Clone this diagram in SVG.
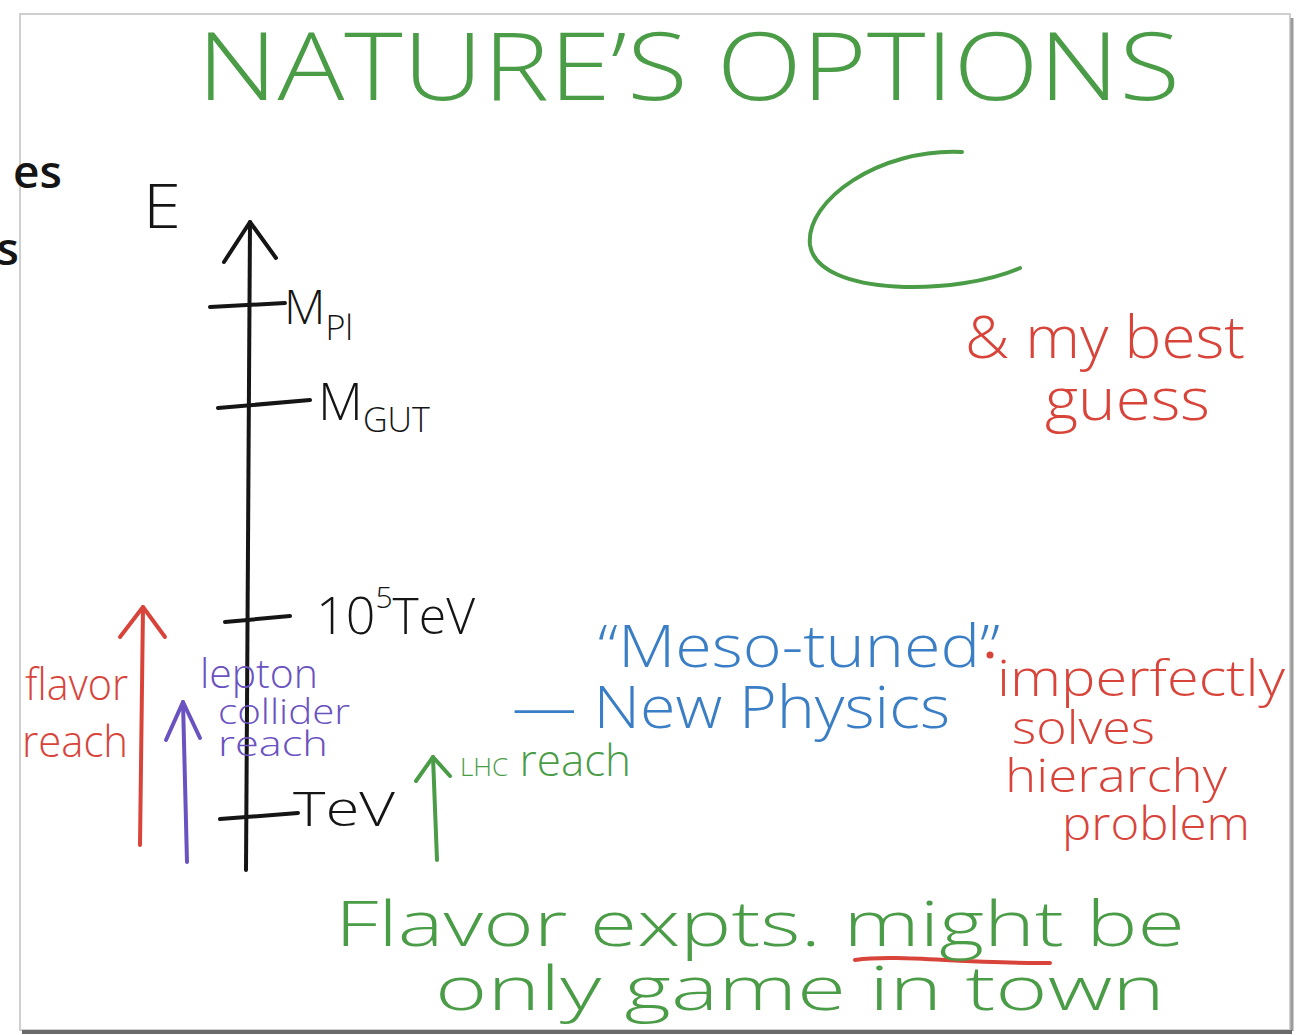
<svg xmlns="http://www.w3.org/2000/svg" width="1306" height="1035" viewBox="0 0 1306 1035">
<defs>
<style>
text{font-family:"Open Sans","Liberation Sans",sans-serif;font-weight:300;}
.g{fill:#4a9c47}.r{fill:#d8443a}.b{fill:#3a7ec6}.p{fill:#6a52c0}.k{fill:#151515}
.ln{fill:none;stroke-linecap:round;stroke-linejoin:round}
.ks{stroke:#151515;stroke-width:4}.rs{stroke:#d8443a;stroke-width:4}.ps{stroke:#6a52c0;stroke-width:4}.gs{stroke:#4a9c47;stroke-width:4}
</style>
</defs>
<rect width="1306" height="1035" fill="#ffffff"/>
<g id="card">
<rect x="20" y="14" width="1270" height="1016" fill="#ffffff" stroke="#cfcfcf" stroke-width="2"/>
<line x1="1292" y1="18" x2="1292" y2="1031" stroke="#9a9a9a" stroke-width="3"/>
<line x1="22" y1="1032" x2="1292" y2="1032" stroke="#6a6a6a" stroke-width="4"/>
</g>
<g id="bg-text">
<text x="62" y="188" class="k" font-size="46" style="font-weight:600" text-anchor="end">es</text>
<text x="19" y="265" class="k" font-size="46" style="font-weight:600" text-anchor="end">s</text>
</g>
<g id="title"><text x="197" y="100" class="g" font-size="94" textLength="983" lengthAdjust="spacingAndGlyphs">NATURE’S OPTIONS</text></g>
<g id="axis-label"><text x="143" y="228" class="k" font-size="60" textLength="38" lengthAdjust="spacingAndGlyphs">E</text></g>
<g id="connectors">
<path class="ln ks" d="M250,222 L246,870"/>
<path class="ln ks" d="M224,262 L250,222 L276,258"/>
<path class="ln ks" d="M210,307 L285,303"/>
<path class="ln ks" d="M218,408 L310,400"/>
<path class="ln ks" d="M225,622 L290,616"/>
<path class="ln ks" d="M220,819 L298,813"/>
<path class="ln rs" d="M140,845 L143,607"/>
<path class="ln rs" d="M120,637 L143,607 L165,637"/>
<path class="ln ps" d="M187,862 L183,702"/>
<path class="ln ps" d="M166,740 L183,702 L200,738"/>
<path class="ln gs" d="M437,860 L433,757"/>
<path class="ln gs" d="M416,781 L433,757 L450,776"/>
<path class="ln gs" d="M962,152 C880,148 805,200 810,245 C818,298 960,295 1020,268"/>
<path class="ln rs" d="M855,960 C900,954 960,964 1050,963"/>
</g>
<g id="mpl"><text x="284" y="324" class="k" font-size="48">M<tspan font-size="34" dy="16">Pl</tspan></text></g>
<g id="mgut"><text x="318" y="420" class="k" font-size="52">M<tspan font-size="34" dy="12">GUT</tspan></text></g>
<g id="e5tev"><text x="316" y="634" class="k" font-size="52">10<tspan font-size="30" dy="-26">5</tspan><tspan dy="26" font-size="50">TeV</tspan></text></g>
<g id="tev"><text x="293" y="826" class="k" font-size="48" textLength="102" lengthAdjust="spacingAndGlyphs">TeV</text></g>
<g id="flavor-reach">
<text x="25" y="700" class="r" font-size="44" textLength="103" lengthAdjust="spacingAndGlyphs">flavor</text>
<text x="22" y="757" class="r" font-size="44" textLength="106" lengthAdjust="spacingAndGlyphs">reach</text>
</g>
<g id="lepton-reach">
<text x="200" y="688" class="p" font-size="40" textLength="118" lengthAdjust="spacingAndGlyphs">lepton</text>
<text x="218" y="724" class="p" font-size="34" textLength="132" lengthAdjust="spacingAndGlyphs">collider</text>
<text x="218" y="756" class="p" font-size="34" textLength="110" lengthAdjust="spacingAndGlyphs">reach</text>
</g>
<g id="lhc-reach"><text x="460" y="776" class="g" font-size="44"><tspan font-size="26">LHC</tspan> reach</text></g>
<g id="meso">
<text x="598" y="667" class="b" font-size="58" textLength="402" lengthAdjust="spacingAndGlyphs">“Meso-tuned”</text>
<text x="512" y="728" class="b" font-size="58" textLength="438" lengthAdjust="spacingAndGlyphs">— New Physics</text>
</g>
<g id="imperfect">
<circle cx="990" cy="655" r="3.5" fill="#d8443a"/>
<text x="997" y="696" class="r" font-size="50" textLength="288" lengthAdjust="spacingAndGlyphs">imperfectly</text>
<text x="1012" y="744" class="r" font-size="46" textLength="143" lengthAdjust="spacingAndGlyphs">solves</text>
<text x="1005" y="792" class="r" font-size="46" textLength="222" lengthAdjust="spacingAndGlyphs">hierarchy</text>
<text x="1062" y="840" class="r" font-size="46" textLength="188" lengthAdjust="spacingAndGlyphs">problem</text>
</g>
<g id="best-guess">
<text x="965" y="358" class="r" font-size="58" textLength="280" lengthAdjust="spacingAndGlyphs">&amp; my best</text>
<text x="1045" y="420" class="r" font-size="58" textLength="165" lengthAdjust="spacingAndGlyphs">guess</text>
</g>
<g id="bottom">
<text x="335" y="946" class="g" font-size="62" textLength="850" lengthAdjust="spacingAndGlyphs">Flavor expts. might be</text>
<text x="435" y="1010" class="g" font-size="60" textLength="730" lengthAdjust="spacingAndGlyphs">only game in town</text>
</g>
</svg>
